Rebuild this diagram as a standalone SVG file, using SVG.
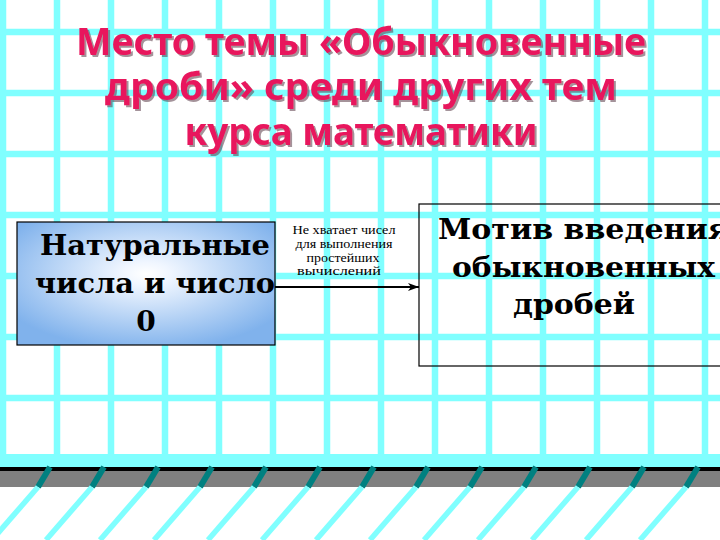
<svg xmlns="http://www.w3.org/2000/svg" width="720" height="540" viewBox="0 0 720 540">
<style>
.grid line{stroke:#80FFFF;stroke-width:6.5}
.teal line{stroke:#008080;stroke-width:6}
.slant line{stroke:#80FFFF;stroke-width:5.5}
.title{font-family:"Noto Sans","DejaVu Sans",sans-serif;font-weight:bold;font-size:38px;text-anchor:middle;fill:#E8175D}
.box{font-family:"DejaVu Serif","Liberation Serif",serif;font-weight:bold;font-size:28px;fill:#000}
.lbl{font-family:"Liberation Serif","DejaVu Serif",serif;font-size:12px;fill:#000;text-anchor:middle}
</style>
<defs>
<radialGradient id="g1" cx="0.5" cy="0.42" r="0.62">
<stop offset="0" stop-color="#ffffff"/>
<stop offset="0.15" stop-color="#f0f6ff"/>
<stop offset="1" stop-color="#80b2ec"/>
</radialGradient>
<filter id="shadow" x="-5%" y="-20%" width="110%" height="140%">
<feOffset in="SourceAlpha" dx="2" dy="2" result="off"/>
<feFlood flood-color="#5a3a48" flood-opacity="0.55"/>
<feComposite in2="off" operator="in" result="sh"/>
<feMerge><feMergeNode in="sh"/><feMergeNode in="SourceGraphic"/></feMerge>
</filter>
<marker id="arr" markerUnits="userSpaceOnUse" markerWidth="12" markerHeight="9" refX="11" refY="4" orient="auto">
<path d="M0,0 L11,4 L0,8 L3,4 z" fill="#000"/>
</marker>
</defs>
<rect width="720" height="540" fill="#ffffff"/>
<g id="background-grid" class="grid">
<line x1="3" y1="0" x2="3" y2="467"/>
<line x1="57" y1="0" x2="57" y2="467"/>
<line x1="111" y1="0" x2="111" y2="467"/>
<line x1="165" y1="0" x2="165" y2="467"/>
<line x1="219" y1="0" x2="219" y2="467"/>
<line x1="273" y1="0" x2="273" y2="467"/>
<line x1="327" y1="0" x2="327" y2="467"/>
<line x1="381" y1="0" x2="381" y2="467"/>
<line x1="435" y1="0" x2="435" y2="467"/>
<line x1="489" y1="0" x2="489" y2="467"/>
<line x1="543" y1="0" x2="543" y2="467"/>
<line x1="597" y1="0" x2="597" y2="467"/>
<line x1="651" y1="0" x2="651" y2="467"/>
<line x1="705" y1="0" x2="705" y2="467"/>
<line x1="0" y1="32" x2="720" y2="32"/>
<line x1="0" y1="93" x2="720" y2="93"/>
<line x1="0" y1="154" x2="720" y2="154"/>
<line x1="0" y1="215" x2="720" y2="215"/>
<line x1="0" y1="276" x2="720" y2="276"/>
<line x1="0" y1="337" x2="720" y2="337"/>
<line x1="0" y1="398" x2="720" y2="398"/>
</g>
<g id="floor">
<rect x="0" y="454" width="720" height="13" fill="#80FFFF"/>
<rect x="0" y="467" width="720" height="4" fill="#000000"/>
<rect x="0" y="471" width="720" height="16" fill="#808080"/>
<g class="teal">
<line x1="50" y1="467" x2="38" y2="487"/>
<line x1="104" y1="467" x2="92" y2="487"/>
<line x1="158" y1="467" x2="146" y2="487"/>
<line x1="212" y1="467" x2="200" y2="487"/>
<line x1="266" y1="467" x2="254" y2="487"/>
<line x1="320" y1="467" x2="308" y2="487"/>
<line x1="374" y1="467" x2="362" y2="487"/>
<line x1="428" y1="467" x2="416" y2="487"/>
<line x1="482" y1="467" x2="470" y2="487"/>
<line x1="536" y1="467" x2="524" y2="487"/>
<line x1="590" y1="467" x2="578" y2="487"/>
<line x1="644" y1="467" x2="632" y2="487"/>
<line x1="698" y1="467" x2="686" y2="487"/>
</g>
<g class="slant">
<line x1="38" y1="487" x2="-8" y2="540"/>
<line x1="92" y1="487" x2="46" y2="540"/>
<line x1="146" y1="487" x2="100" y2="540"/>
<line x1="200" y1="487" x2="154" y2="540"/>
<line x1="254" y1="487" x2="208" y2="540"/>
<line x1="308" y1="487" x2="262" y2="540"/>
<line x1="362" y1="487" x2="316" y2="540"/>
<line x1="416" y1="487" x2="370" y2="540"/>
<line x1="470" y1="487" x2="424" y2="540"/>
<line x1="524" y1="487" x2="478" y2="540"/>
<line x1="578" y1="487" x2="532" y2="540"/>
<line x1="632" y1="487" x2="586" y2="540"/>
<line x1="686" y1="487" x2="640" y2="540"/>
</g>
</g>
<g id="title" class="title" filter="url(#shadow)">
<text x="361" y="55" textLength="570" lengthAdjust="spacingAndGlyphs">Место темы «Обыкновенные</text>
<text x="361" y="100" textLength="512" lengthAdjust="spacingAndGlyphs">дроби» среди других тем</text>
<text x="361" y="145" textLength="353" lengthAdjust="spacingAndGlyphs">курса математики</text>
</g>
<g id="connectors">
<line x1="275" y1="287" x2="419" y2="287" stroke="#000" stroke-width="2" marker-end="url(#arr)"/>
<g class="lbl">
<text x="344" y="234" textLength="103" lengthAdjust="spacingAndGlyphs">Не хватает чисел</text>
<text x="344" y="248" textLength="97" lengthAdjust="spacingAndGlyphs">для выполнения</text>
<text x="343" y="262" textLength="73" lengthAdjust="spacingAndGlyphs">простейших</text>
<text x="339" y="275" textLength="84" lengthAdjust="spacingAndGlyphs">вычислений</text>
</g>
</g>
<g id="node-natural">
<rect x="17" y="222" width="258" height="123" fill="url(#g1)" stroke="#000" stroke-width="1.2"/>
<text class="box" x="40" y="255" textLength="230" lengthAdjust="spacingAndGlyphs">Натуральные</text>
<text class="box" x="35" y="293" textLength="240" lengthAdjust="spacingAndGlyphs">числа и число</text>
<text class="box" x="146" y="331" text-anchor="middle">0</text>
</g>
<g id="node-motive">
<rect x="419" y="204" width="400" height="162" fill="none" stroke="#000" stroke-width="1.2"/>
<text class="box" x="438" y="239" textLength="292" lengthAdjust="spacingAndGlyphs">Мотив введения</text>
<text class="box" x="452" y="277" textLength="263" lengthAdjust="spacingAndGlyphs">обыкновенных</text>
<text class="box" x="513" y="314" textLength="122" lengthAdjust="spacingAndGlyphs">дробей</text>
</g>
</svg>
